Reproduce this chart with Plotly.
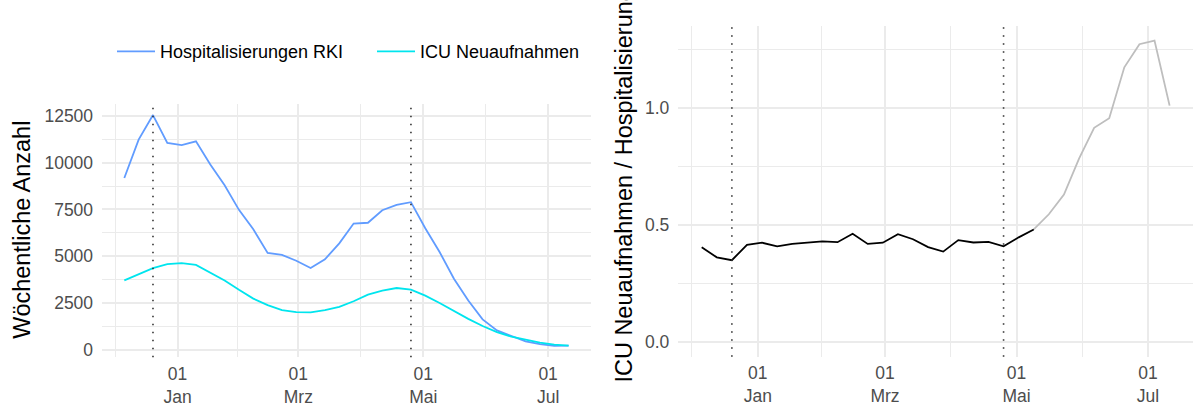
import pandas as pd
import plotly.graph_objects as go

# ---- data (weekly values) ----
week_start = "2022-12-06"
n_weeks = 32
hosp = [9180, 11230, 12540, 11050, 10940, 11140, 9900, 8790, 7480, 6440,
        5180, 5070, 4760, 4370, 4840, 5690, 6750, 6790, 7460, 7740,
        7890, 6500, 5230, 3800, 2640, 1630, 1045, 740, 452, 306, 220, 228]
icu = [3710, 4050, 4370, 4580, 4630, 4540, 4140, 3710, 3210, 2740,
       2390, 2120, 2015, 2010, 2120, 2300, 2600, 2950, 3165, 3305,
       3220, 2900, 2510, 2070, 1660, 1275, 955, 707, 530, 389, 283, 230]
series_names = ["Hospitalisierungen RKI", "ICU Neuaufnahmen"]
complete_until = 22          # index of last week with (nearly) complete data
marker_idx = [2, 20]         # weeks marked with dotted vertical lines
tick_dates = ["2023-01-01", "2023-03-01", "2023-05-01", "2023-07-01"]
tick_text = ["01<br>Jan", "01<br>Mrz", "01<br>Mai", "01<br>Jul"]
minor_dates = ["2022-12-01 12:00", "2023-01-30 12:00", "2023-03-31 12:00", "2023-05-31 12:00"]
left_yticks = [0, 2500, 5000, 7500, 10000, 12500]
left_yminor = [1250, 3750, 6250, 8750, 11250]
right_yticks = [0.0, 0.5, 1.0]
right_yminor = [0.25, 0.75, 1.25]

weeks = pd.date_range(week_start, periods=n_weeks, freq="7D")
ratio = [i / h for i, h in zip(icu, hosp)]

W, H = 1193, 407
FONT = "Liberation Sans, Arial, sans-serif"
GRID = "#EBEBEB"

def px_x(p):
    return p / W

def px_y(p):
    return 1 - p / H

fig = go.Figure()
fig.add_trace(go.Scatter(x=weeks, y=hosp, mode="lines", name=series_names[0],
                         line=dict(color="#619CFF", width=1.8), xaxis="x", yaxis="y"))
fig.add_trace(go.Scatter(x=weeks, y=icu, mode="lines", name=series_names[1],
                         line=dict(color="#00E5EE", width=1.8), xaxis="x", yaxis="y"))
fig.add_trace(go.Scatter(x=weeks[complete_until:], y=ratio[complete_until:], mode="lines",
                         line=dict(color="#BEBEBE", width=1.8), showlegend=False,
                         xaxis="x2", yaxis="y2"))
fig.add_trace(go.Scatter(x=weeks[:complete_until + 1], y=ratio[:complete_until + 1], mode="lines",
                         line=dict(color="#000000", width=1.8), showlegend=False,
                         xaxis="x2", yaxis="y2"))

pad = (weeks[-1] - weeks[0]) * 0.05
xr = [weeks[0] - pad, weeks[-1] + pad]
lo, hi = min(min(hosp), min(icu)), max(max(hosp), max(icu))
yr1 = [lo - 0.05 * (hi - lo), hi + 0.05 * (hi - lo)]
rhi = max(ratio)
yr2 = [-0.05 * rhi, rhi * 1.05]

def xaxis(domain, anchor):
    return dict(domain=domain, anchor=anchor, range=xr, type="date",
                tickmode="array", tickvals=tick_dates, ticktext=tick_text,
                showgrid=True, gridcolor=GRID, gridwidth=1.6,
                minor=dict(tickmode="array", tickvals=minor_dates, showgrid=True,
                           gridcolor=GRID, gridwidth=0.8),
                zeroline=False, showline=False, ticks="",
                tickfont=dict(family=FONT, size=17.5, color="#4D4D4D"),
                ticklabelstandoff=4)

def yaxis(domain, anchor, rng, vals, minor, fmt):
    return dict(domain=domain, anchor=anchor, range=rng,
                tickmode="array", tickvals=vals, ticktext=[fmt(v) for v in vals],
                showgrid=True, gridcolor=GRID, gridwidth=1.6,
                minor=dict(tickmode="array", tickvals=minor, showgrid=True,
                           gridcolor=GRID, gridwidth=0.8),
                zeroline=False, showline=False, ticks="",
                tickfont=dict(family=FONT, size=17.5, color="#4D4D4D"),
                ticklabelstandoff=8)

fig.update_layout(
    width=W, height=H,
    margin=dict(l=0, r=0, t=0, b=0),
    paper_bgcolor="white", plot_bgcolor="white",
    font=dict(family=FONT, size=17.5, color="black"),
    xaxis=xaxis([px_x(102.1), px_x(590.8)], "y"),
    yaxis=yaxis([px_y(360.0), px_y(104.3)], "x", yr1, left_yticks, left_yminor, lambda v: f"{v}"),
    xaxis2=xaxis([px_x(678.3), 1.0], "y2"),
    yaxis2=yaxis([px_y(359.5), px_y(25.8)], "x2", yr2, right_yticks, right_yminor, lambda v: f"{v:.1f}"),
    legend=dict(orientation="h", x=px_x(112), xanchor="left", y=px_y(52), yanchor="middle",
                font=dict(family=FONT, size=18, color="black"), bgcolor="rgba(0,0,0,0)",
                itemwidth=38, entrywidth=207, entrywidthmode="pixels"),
    showlegend=True,
)

shapes = []
for ax in ["x", "x2"]:
    for k in marker_idx:
        shapes.append(dict(type="line", xref=ax, yref=("y" if ax == "x" else "y2") + " domain",
                           x0=weeks[k], x1=weeks[k], y0=0, y1=1,
                           line=dict(color="#333333", width=1.6, dash="1.6px,6.4px")))
fig.update_layout(shapes=shapes)

fig.add_annotation(text="Wöchentliche Anzahl", textangle=-90, xref="paper", yref="paper",
                   x=px_x(22), y=px_y(231.5), xanchor="center", yanchor="middle", showarrow=False,
                   font=dict(family=FONT, size=23.5, color="black"))
fig.add_annotation(text="ICU Neuaufnahmen / Hospitalisierung", textangle=-90, xref="paper", yref="paper",
                   x=px_x(624), y=px_y(187), xanchor="center", yanchor="middle", showarrow=False,
                   font=dict(family=FONT, size=23.5, color="black"))

fig.write_html("out.html", config={"displayModeBar": False},
               post_script="document.body.style.margin='0';")
